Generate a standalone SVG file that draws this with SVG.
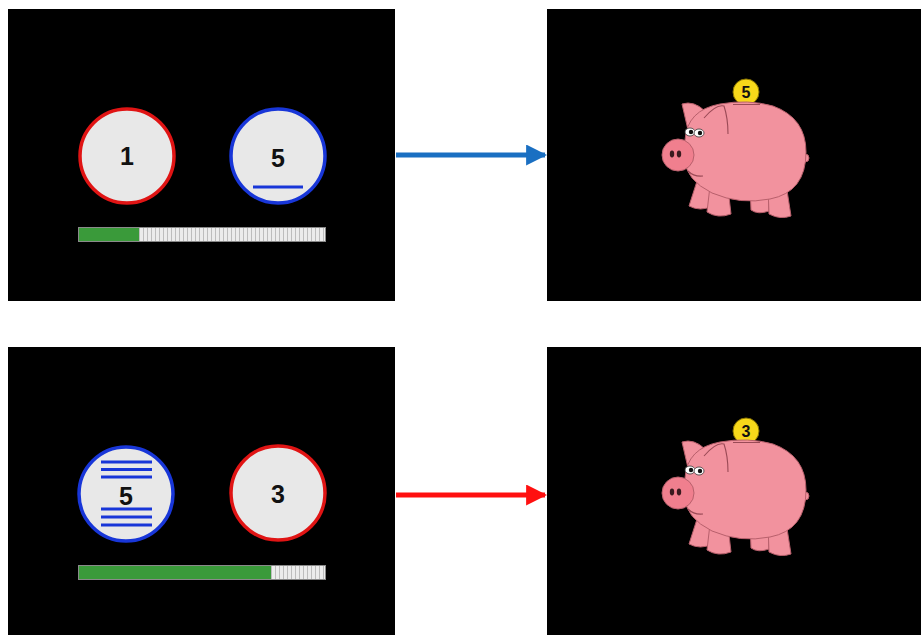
<svg xmlns="http://www.w3.org/2000/svg" xmlns:xlink="http://www.w3.org/1999/xlink" width="921" height="635" viewBox="0 0 921 635">
  <style>
    .panel { fill: #000; }
    .disc { fill: #e8e8e8; stroke-width: 3.5; }
    .red { stroke: #e01414; }
    .blue { stroke: #1836d8; }
    .num { font-family: "Liberation Sans", Arial, sans-serif; font-weight: bold; font-size: 25px; fill: #111; text-anchor: middle; }
    .coinnum { font-family: "Liberation Sans", Arial, sans-serif; font-weight: bold; font-size: 16px; fill: #111; text-anchor: middle; }
    .mark { stroke: #1836d8; stroke-width: 3; }
    .bar { stroke: #8a8a8a; stroke-width: 1; }
    .fill { fill: #3a9a3a; }
    .pig { fill: #f2929e; stroke: #b8606c; stroke-width: 1; }
    .line { fill: none; stroke: #9a4a56; stroke-width: 1.1; }
  </style>
  <defs>
    <pattern id="ticks" x="0" y="0" width="4" height="20" patternUnits="userSpaceOnUse">
      <rect width="4" height="20" fill="#ececec"/>
      <line x1="3.5" y1="0" x2="3.5" y2="20" stroke="#bdbdbd" stroke-width="1"/>
    </pattern>
    <marker id="headBlue" viewBox="0 0 10 10" refX="9" refY="5" markerWidth="4.2" markerHeight="4.2" orient="auto" markerUnits="strokeWidth">
      <path d="M0 0 L10 5 L0 10 Z" fill="#1a6fc2"/>
    </marker>
    <marker id="headRed" viewBox="0 0 10 10" refX="9" refY="5" markerWidth="4.2" markerHeight="4.2" orient="auto" markerUnits="strokeWidth">
      <path d="M0 0 L10 5 L0 10 Z" fill="#ff1010"/>
    </marker>
    <!-- piggy bank body, drawn without its coin -->
    <g id="pigBody">
      <!-- back legs -->
      <path class="pig" d="M750 186 L751 210 Q758 215 769 211 L768 190 Z"/>
      <path class="pig" d="M768 186 L769 214 Q780 220 791 216 L786 184 Z"/>
      <!-- front legs -->
      <path class="pig" d="M698 178 L689 206 Q700 212 713 206 L712 184 Z"/>
      <path class="pig" d="M710 186 L707 212 Q718 219 731 214 L728 188 Z"/>
      <!-- tail -->
      <circle class="pig" cx="805" cy="158" r="4"/>
      <!-- ear -->
      <path class="pig" d="M688 130 L682 104 Q694 100 706 112 Z"/>
      <!-- body -->
      <path class="pig" d="M685 140 Q687 110 720 104 Q748 99 773 106 Q806 118 806 152 Q806 192 770 199 Q740 205 712 193 Q686 180 685 160 Z"/>
      <!-- slot -->
      <line x1="733" y1="104.5" x2="760" y2="104.5" stroke="#9a4a56" stroke-width="1"/>
      <!-- ear fold -->
      <path class="line" d="M704 118 Q716 104 724 106 Q728 118 728 134"/>
      <!-- mouth -->
      <path class="line" d="M688 171 Q694 177 703 176"/>
      <!-- eyes -->
      <ellipse cx="690" cy="132" rx="5" ry="4" fill="#fff" stroke="#333" stroke-width="0.8"/>
      <ellipse cx="699" cy="133" rx="5" ry="4" fill="#fff" stroke="#333" stroke-width="0.8"/>
      <circle cx="691" cy="132" r="2.2" fill="#111"/>
      <circle cx="700" cy="133" r="2.2" fill="#111"/>
      <!-- snout -->
      <circle cx="678" cy="155" r="16" fill="#f07f8e" stroke="#b8606c" stroke-width="1"/>
      <ellipse cx="672" cy="154" rx="2.2" ry="3.4" fill="#3a1a1e"/>
      <ellipse cx="679" cy="154" rx="2.2" ry="3.4" fill="#3a1a1e"/>
    </g>
  </defs>

  <rect width="921" height="635" fill="#fff"/>

  <!-- top-left: first pair of discs -->
  <g id="screen-top-left">
    <rect class="panel" x="8" y="9" width="387" height="292"/>
    <circle class="disc red" cx="127" cy="156" r="47"/>
    <text class="num" x="127" y="165">1</text>
    <circle class="disc blue" cx="278" cy="156" r="47"/>
    <text class="num" x="278" y="167">5</text>
    <line class="mark" x1="253" y1="187" x2="303" y2="187"/>
    <rect class="bar" x="78.5" y="227.5" width="247" height="14" fill="url(#ticks)"/>
    <rect class="fill" x="79" y="228" width="60" height="13"/>
  </g>

  <!-- top-right: pig receiving a 5 -->
  <g id="screen-top-right">
    <rect class="panel" x="547" y="9" width="374" height="292"/>
    <circle cx="746" cy="92" r="13" fill="#f7d81a" stroke="#8a7400" stroke-width="1"/>
    <text class="coinnum" x="746" y="98">5</text>
    <use xlink:href="#pigBody"/>
  </g>

  <!-- bottom-left: second pair of discs -->
  <g id="screen-bottom-left">
    <rect class="panel" x="8" y="347" width="387" height="288"/>
    <circle class="disc blue" cx="126" cy="494" r="47"/>
    <line class="mark" x1="101" y1="462" x2="152" y2="462"/>
    <line class="mark" x1="101" y1="469.5" x2="152" y2="469.5"/>
    <line class="mark" x1="101" y1="477" x2="152" y2="477"/>
    <text class="num" x="126" y="505">5</text>
    <line class="mark" x1="101" y1="509" x2="152" y2="509"/>
    <line class="mark" x1="101" y1="517" x2="152" y2="517"/>
    <line class="mark" x1="101" y1="525" x2="152" y2="525"/>
    <circle class="disc red" cx="278" cy="493" r="47"/>
    <text class="num" x="278" y="503">3</text>
    <rect class="bar" x="78.5" y="565.5" width="247" height="14" fill="url(#ticks)"/>
    <rect class="fill" x="79" y="566" width="192" height="13"/>
  </g>

  <!-- bottom-right: pig receiving a 3 -->
  <g id="screen-bottom-right">
    <rect class="panel" x="547" y="347" width="374" height="288"/>
    <g transform="translate(0,338)">
      <circle cx="746" cy="93" r="13" fill="#f7d81a" stroke="#8a7400" stroke-width="1"/>
      <text class="coinnum" x="746" y="99">3</text>
      <use xlink:href="#pigBody"/>
    </g>
  </g>

  <!-- connectors -->
  <g id="connectors">
    <line x1="396" y1="155" x2="545" y2="155" stroke="#1a6fc2" stroke-width="5" marker-end="url(#headBlue)"/>
    <line x1="396" y1="495" x2="545" y2="495" stroke="#ff1010" stroke-width="5" marker-end="url(#headRed)"/>
  </g>
</svg>
